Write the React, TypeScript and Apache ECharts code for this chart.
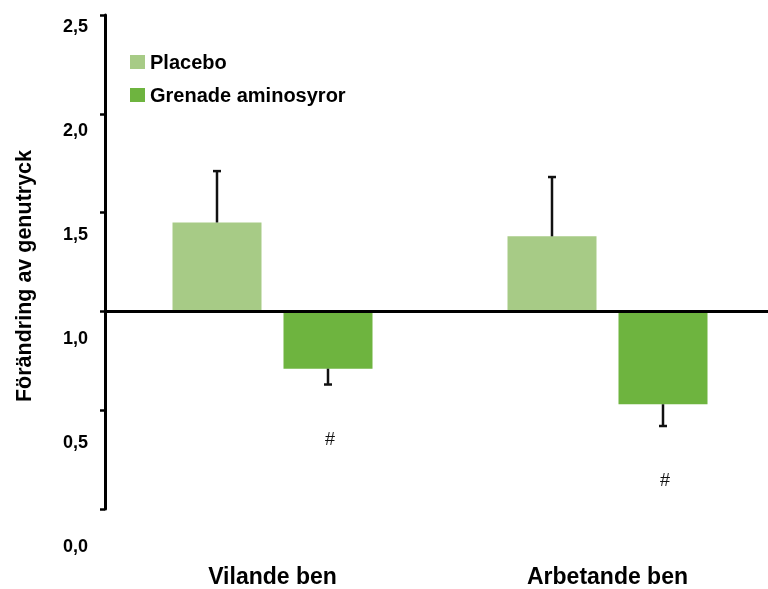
import React, { useEffect, useRef } from 'react';
import * as echarts from 'echarts';

const categories = ['Vilande ben', 'Arbetande ben'];
const seriesNames = ['Placebo', 'Grenade aminosyror'];
const placebo = [1.45, 1.38];
const placeboErr = [0.26, 0.3];
const grenade = [0.71, 0.53];
const grenadeErr = [0.08, 0.11];
const placeboMarks = ['', ''];
const grenadeMarks = ['#', '#'];
const baseline = 1.0;
const yMin = 0;
const yMax = 2.5;
const yStep = 0.5;
const yTickLabels = ['0,0', '0,5', '1,0', '1,5', '2,0', '2,5'];
const yTitle = 'Förändring av genutryck';
const colors = ['#A7CB86', '#6EB43F'];

export default function App() {
  const ref = useRef<HTMLDivElement>(null);
  useEffect(() => {
    const chart = echarts.init(ref.current!, null, { renderer: 'svg' });
    const FONT = "'Liberation Sans', Arial, Helvetica, sans-serif";
    const BAR_W = 89;
    const GAP = 22;
    const offset = (BAR_W + GAP) / 2;
    const toDelta = (v: number) => +(v - baseline).toFixed(4);

    const makeRender = (marks: string[], side: number) => (params: any, api: any) => {
      const i = api.value(0);
      const d = api.value(1);
      const e = api.value(2);
      const dir = d >= 0 ? 1 : -1;
      const p0 = api.coord([i, d]);
      const p1 = api.coord([i, d + dir * e]);
      const x = p0[0] + side * offset;
      const st = { stroke: '#111', lineWidth: 2.5 };
      const children: any[] = [
        { type: 'line', shape: { x1: x, y1: p0[1], x2: x, y2: p1[1] }, style: st },
        { type: 'line', shape: { x1: x - 4, y1: p1[1], x2: x + 4, y2: p1[1] }, style: st },
      ];
      const m = marks[params.dataIndex];
      if (m) {
        children.push({
          type: 'text',
          x: x + 2,
          y: p1[1] + 54,
          style: {
            text: m,
            fontSize: 18,
            fontFamily: FONT,
            fill: '#111',
            align: 'center',
            verticalAlign: 'middle',
          },
        });
      }
      return { type: 'group', children };
    };

    const errData = (vals: number[], errs: number[]) =>
      vals.map((v, i) => [i, toDelta(v), errs[i]]);

    chart.setOption({
      animation: false,
      textStyle: { fontFamily: FONT },
      color: colors,
      legend: {
        data: seriesNames,
        orient: 'vertical',
        left: 130,
        top: 52,
        padding: 0,
        itemWidth: 15,
        itemHeight: 14,
        itemGap: 13,
        icon: 'rect',
        textStyle: { fontSize: 20, fontWeight: 'bold', color: '#000', lineHeight: 20, fontFamily: FONT },
      },
      grid: [
        { left: 105, width: 670, top: 15, height: 494, outerBoundsMode: 'none', containLabel: false },
        { left: 105, width: 1, top: 26.2, height: 520.1, outerBoundsMode: 'none', containLabel: false },
      ],
      xAxis: [
        {
          type: 'category',
          gridIndex: 0,
          data: categories,
          position: 'bottom',
          axisLine: { show: false, onZero: false },
          axisTick: { show: false },
          axisLabel: { margin: 55, fontSize: 23, fontWeight: 'bold', color: '#000', fontFamily: FONT },
        },
        { type: 'value', gridIndex: 1, show: false },
      ],
      yAxis: [
        {
          type: 'value',
          gridIndex: 0,
          min: yMin - baseline,
          max: yMax - baseline,
          interval: yStep,
          axisLine: { show: true, lineStyle: { color: '#000', width: 3 } },
          axisTick: { show: true, length: 5, lineStyle: { color: '#000', width: 2.5 } },
          axisLabel: { show: false },
          splitLine: { show: false },
        },
        {
          type: 'category',
          gridIndex: 1,
          data: yTickLabels,
          boundaryGap: false,
          axisLine: { show: false },
          axisTick: { show: false },
          splitLine: { show: false },
          axisLabel: { margin: 17, fontSize: 18, fontWeight: 'bold', color: '#000', fontFamily: FONT, interval: 0 },
        },
      ],
      graphic: [
        {
          type: 'text',
          x: 24,
          y: 276,
          rotation: Math.PI / 2,
          style: {
            text: yTitle,
            fontSize: 21.5,
            fontWeight: 'bold',
            fontFamily: FONT,
            fill: '#000',
            align: 'center',
            verticalAlign: 'middle',
          },
        },
      ],
      series: [
        {
          name: seriesNames[0],
          type: 'bar',
          xAxisIndex: 0,
          yAxisIndex: 0,
          barWidth: BAR_W,
          barGap: (GAP / BAR_W) * 100 + '%',
          data: placebo.map(toDelta),
          itemStyle: { color: colors[0] },
        },
        {
          name: seriesNames[1],
          type: 'bar',
          xAxisIndex: 0,
          yAxisIndex: 0,
          barWidth: BAR_W,
          barGap: (GAP / BAR_W) * 100 + '%',
          data: grenade.map(toDelta),
          itemStyle: { color: colors[1] },
        },
        {
          type: 'custom',
          xAxisIndex: 0,
          yAxisIndex: 0,
          z: 5,
          renderItem: makeRender(placeboMarks, -1),
          data: errData(placebo, placeboErr),
        },
        {
          type: 'custom',
          xAxisIndex: 0,
          yAxisIndex: 0,
          z: 5,
          renderItem: makeRender(grenadeMarks, 1),
          data: errData(grenade, grenadeErr),
          markLine: {
            silent: true,
            symbol: 'none',
            label: { show: false },
            lineStyle: { color: '#000', width: 3, type: 'solid' },
            data: [{ yAxis: 0 }],
          },
        },
      ],
    });
    return () => chart.dispose();
  }, []);
  return <div ref={ref} style={{ position: 'fixed', left: 0, top: 0, width: 768, height: 589 }} />;
}
